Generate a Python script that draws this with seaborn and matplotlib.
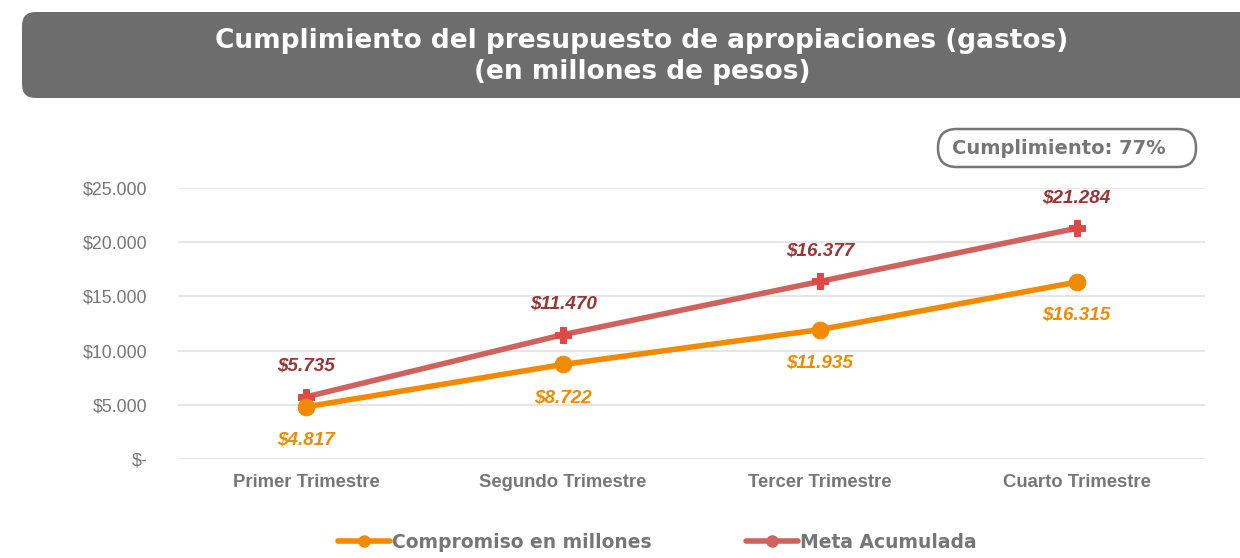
import matplotlib
matplotlib.use("Agg")
import matplotlib.pyplot as plt
import seaborn as sns
import pandas as pd
from matplotlib.patches import FancyBboxPatch
from matplotlib.ticker import FuncFormatter
from matplotlib.lines import Line2D

categories = ["Primer Trimestre", "Segundo Trimestre", "Tercer Trimestre", "Cuarto Trimestre"]
compromiso = [4817, 8722, 11935, 16315]
meta = [5735, 11470, 16377, 21284]
series_names = ["Compromiso en millones", "Meta Acumulada"]
yticks = [0, 5000, 10000, 15000, 20000, 25000]

c_orange = "#f28a00"
c_red = "#d0625e"
c_red_lbl = "#9b3434"
c_gray = "#767676"

sns.set_theme(style="white")
plt.rcParams["font.family"] = ["Liberation Sans", "DejaVu Sans"]

df = pd.DataFrame({
    "Trimestre": categories * 2,
    "Valor": compromiso + meta,
    "Serie": [series_names[0]] * 4 + [series_names[1]] * 4,
})
df["x"] = list(range(4)) * 2

W, H = 1240, 558
fig = plt.figure(figsize=(12.4, 5.58), dpi=100)
ax = fig.add_axes([178 / W, 1 - 459 / H, (1205 - 178) / W, (459 - 188) / H])

sns.lineplot(data=df[df["Serie"] == series_names[1]], x="x", y="Valor", ax=ax,
             color=c_red, linewidth=4, marker="P", markersize=11,
             markerfacecolor="#e04848", markeredgecolor="#e04848", legend=False)
sns.lineplot(data=df[df["Serie"] == series_names[0]], x="x", y="Valor", ax=ax,
             color=c_orange, linewidth=4, marker="o", markersize=12,
             markerfacecolor=c_orange, markeredgecolor=c_orange, legend=False)

ax.set_xlim(-0.5, 3.5)
ax.set_ylim(0, 25000)
ax.set_yticks(yticks)
ax.yaxis.set_major_formatter(FuncFormatter(
    lambda v, p: "$-" if v == 0 else "${:,.0f}".format(v).replace(",", ".")))
ax.set_xticks(range(4))
ax.set_xticklabels(categories, fontweight="bold", fontsize=13.3, color=c_gray)
ax.tick_params(axis="y", labelsize=12.8, labelcolor=c_gray, length=0, pad=22)
ax.tick_params(axis="x", length=0, pad=11)
ax.set_xlabel("")
ax.set_ylabel("")
for s in ax.spines.values():
    s.set_visible(False)
ax.grid(axis="y", color="#e6e6e6", linewidth=1.5)
ax.set_axisbelow(True)

fmt = lambda v: "${:,.0f}".format(v).replace(",", ".")
for i, v in enumerate(meta):
    ax.annotate(fmt(v), (i, v), xytext=(0, 22), textcoords="offset points",
                ha="center", va="center", fontsize=13.6, fontweight="bold",
                fontstyle="italic", color=c_red_lbl)
for i, v in enumerate(compromiso):
    ax.annotate(fmt(v), (i, v), xytext=(0, -24), textcoords="offset points",
                ha="center", va="center", fontsize=13.6, fontweight="bold",
                fontstyle="italic", color=c_orange)

# Title banner
banner = FancyBboxPatch((22 / W, 1 - 98 / H), 1.2, (98 - 12) / H,
                        boxstyle="round,pad=0,rounding_size=0.011",
                        transform=fig.transFigure, facecolor="#6d6d6d",
                        edgecolor="none", mutation_aspect=W / H)
fig.patches.append(banner)
fig.text(642 / W, 1 - 41 / H, "Cumplimiento del presupuesto de apropiaciones (gastos)",
         ha="center", va="center", color="white", fontsize=19, fontweight="bold",
         family="DejaVu Sans")
fig.text(642 / W, 1 - 72 / H, "(en millones de pesos)",
         ha="center", va="center", color="white", fontsize=19, fontweight="bold",
         family="DejaVu Sans")

# Cumplimiento box (pill)
pill = FancyBboxPatch((938 / W, 1 - 167 / H), (1196 - 938) / W, (167 - 129) / H,
                      boxstyle="round,pad=0,rounding_size=0.0150",
                      transform=fig.transFigure, facecolor="white",
                      edgecolor=c_gray, linewidth=1.8, mutation_aspect=W / H)
fig.patches.append(pill)
fig.text(1059 / W, 1 - 149 / H, "Cumplimiento: 77%", ha="center", va="center",
         fontsize=14, fontweight="bold", color=c_gray, family="DejaVu Sans")

handles = [Line2D([0], [0], color=c_orange, lw=4, marker="o", markersize=8),
           Line2D([0], [0], color=c_red, lw=4, marker="o", markersize=8)]
leg = fig.legend(handles, series_names, loc="center", bbox_to_anchor=(0.53, 0.028),
                 ncol=2, frameon=False, handlelength=2.8, handletextpad=0.1,
                 columnspacing=5,
                 prop=dict(family="DejaVu Sans", weight="bold", size=13.5))
for t in leg.get_texts():
    t.set_color(c_gray)

fig.savefig("out.png", dpi=100)
